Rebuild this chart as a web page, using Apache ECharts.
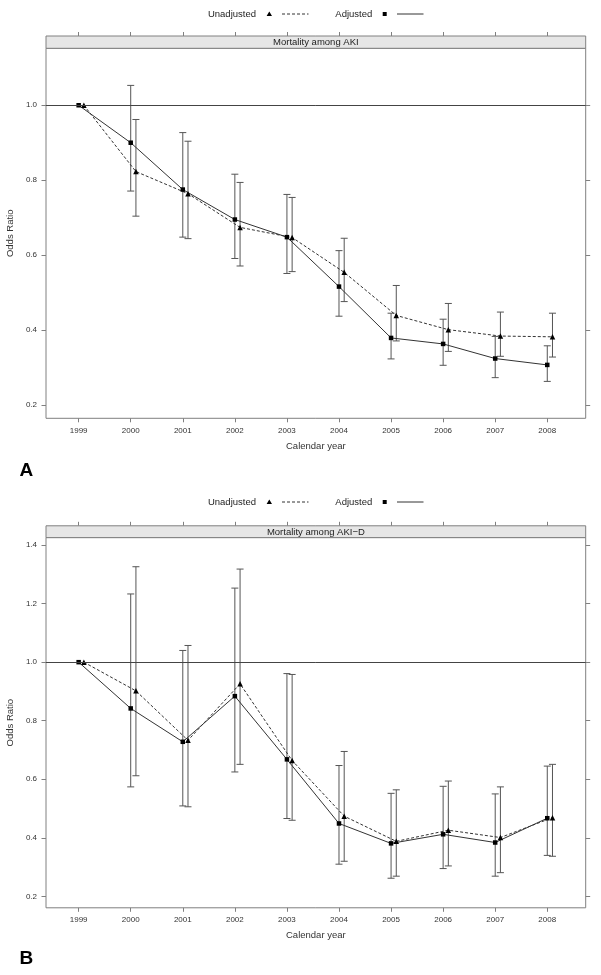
<!DOCTYPE html>
<html><head><meta charset="utf-8">
<script src="https://cdn.jsdelivr.net/npm/echarts@6/dist/echarts.min.js"></script>
<style>html,body{margin:0;padding:0;background:#fff}#c{width:601px;height:975px}</style>
</head><body><div id="c"></div>
<script>
// ---------- data ----------
const years = [1999, 2000, 2001, 2002, 2003, 2004, 2005, 2006, 2007, 2008];
const yTicksA = [0.2, 0.4, 0.6, 0.8, 1.0];
const yTicksB = [0.2, 0.4, 0.6, 0.8, 1.0, 1.2, 1.4];

// Panel A: Mortality among AKI
const aAdjOR   = [1.000, 0.900, 0.775, 0.695, 0.648, 0.516, 0.379, 0.363, 0.324, 0.307];
const aAdjLo   = [null,  0.771, 0.648, 0.591, 0.551, 0.437, 0.323, 0.306, 0.273, 0.263];
const aAdjHi   = [null,  1.053, 0.927, 0.816, 0.762, 0.612, 0.445, 0.429, 0.383, 0.358];
const aUnOR    = [1.000, 0.823, 0.764, 0.674, 0.647, 0.554, 0.439, 0.401, 0.384, 0.382];
const aUnLo    = [null,  0.704, 0.644, 0.571, 0.556, 0.476, 0.371, 0.343, 0.330, 0.328];
const aUnHi    = [null,  0.962, 0.904, 0.794, 0.754, 0.645, 0.519, 0.471, 0.448, 0.445];

// Panel B: Mortality among AKI-D
const bAdjOR   = [1.000, 0.842, 0.728, 0.884, 0.668, 0.449, 0.381, 0.412, 0.384, 0.467];
const bAdjLo   = [null,  0.574, 0.509, 0.625, 0.466, 0.310, 0.262, 0.295, 0.269, 0.340];
const bAdjHi   = [null,  1.233, 1.040, 1.253, 0.961, 0.647, 0.552, 0.576, 0.550, 0.645];
const bUnOR    = [1.000, 0.902, 0.733, 0.926, 0.664, 0.474, 0.388, 0.426, 0.401, 0.469];
const bUnLo    = [null,  0.612, 0.506, 0.651, 0.460, 0.320, 0.269, 0.304, 0.281, 0.337];
const bUnHi    = [null,  1.326, 1.057, 1.318, 0.958, 0.695, 0.564, 0.594, 0.574, 0.651];

// ---------- layout / style ----------
const DODGE = 0.1;
const FONT = "'Liberation Sans', Arial, Helvetica, sans-serif";
const TXT = '#333';
const BOX = '#808080';
const LEFT = 46, WIDTH = 539.7;
const panels = [
  {title: 'Mortality among AKI', stripTop: 36, top: 48.3, height: 370, ymin: 0.1645, ymax: 1.152, ticks: yTicksA,
   adj: [aAdjOR, aAdjLo, aAdjHi], un: [aUnOR, aUnLo, aUnHi], legendY: 14, letter: 'A', letterY: 471},
  {title: 'Mortality among AKI\u2212D', stripTop: 525.8, top: 537.6, height: 370.2, ymin: 0.161, ymax: 1.4255, ticks: yTicksB,
   adj: [bAdjOR, bAdjLo, bAdjHi], un: [bUnOR, bUnLo, bUnHi], legendY: 502, letter: 'B', letterY: 959}
];
const XMIN = 1998.373, XMAX = 2008.738;

function errItem(params, api) {
  const x = api.value(0), lo = api.value(1), hi = api.value(2);
  const pl = api.coord([x, lo]), ph = api.coord([x, hi]);
  const hw = 3.5;
  const st = {stroke: '#555', lineWidth: 1, fill: null};
  return {type: 'group', children: [
    {type: 'line', shape: {x1: pl[0], y1: pl[1], x2: ph[0], y2: ph[1]}, style: st},
    {type: 'line', shape: {x1: pl[0] - hw, y1: pl[1], x2: pl[0] + hw, y2: pl[1]}, style: st},
    {type: 'line', shape: {x1: ph[0] - hw, y1: ph[1], x2: ph[0] + hw, y2: ph[1]}, style: st}
  ]};
}

const grid = [], xAxis = [], yAxis = [], series = [], graphic = [];
panels.forEach((p, i) => {
  grid.push({left: LEFT, top: p.top, width: WIDTH, height: p.height, show: true,
    borderColor: BOX, borderWidth: 1, backgroundColor: 'transparent', containLabel: false, outerBoundsMode: 'none'});
  const xBase = {type: 'value', gridIndex: i, min: XMIN, max: XMAX, splitLine: {show: false}, axisLine: {show: false}};
  xAxis.push(Object.assign({}, xBase, {position: 'bottom',
    axisTick: {show: true, inside: false, length: 4, lineStyle: {color: BOX}, customValues: years},
    axisLabel: {show: true, customValues: years, formatter: v => String(Math.round(v)), color: TXT, fontSize: 8, fontFamily: FONT, margin: 8},
    name: 'Calendar year', nameLocation: 'middle', nameGap: 23,
    nameTextStyle: {color: TXT, fontSize: 9.5, fontFamily: FONT}}));
  xAxis.push(Object.assign({}, xBase, {position: 'top', offset: p.top - p.stripTop,
    axisTick: {show: true, inside: false, length: 4, lineStyle: {color: BOX}, customValues: years},
    axisLabel: {show: false}}));
  const yBase = {type: 'value', gridIndex: i, min: p.ymin, max: p.ymax, splitLine: {show: false}, axisLine: {show: false}};
  yAxis.push(Object.assign({}, yBase, {position: 'left',
    axisTick: {show: true, inside: false, length: 4.5, lineStyle: {color: BOX}, customValues: p.ticks},
    axisLabel: {show: true, customValues: p.ticks, formatter: v => v.toFixed(1), color: TXT, fontSize: 8, fontFamily: FONT, margin: 9},
    name: 'Odds Ratio', nameLocation: 'middle', nameGap: 25,
    nameTextStyle: {color: TXT, fontSize: 9.5, fontFamily: FONT}}));
  yAxis.push(Object.assign({}, yBase, {position: 'right',
    axisTick: {show: true, inside: false, length: 4.5, lineStyle: {color: BOX}, customValues: p.ticks},
    axisLabel: {show: false}}));

  const xi = i * 2, yi = i * 2;
  const build = (arr, d) => years.map((y, k) => [y + d, arr[k]]);
  const buildErr = (lo, hi, d) => years.map((y, k) => [y + d, lo[k], hi[k]]).filter(r => r[1] != null);

  series.push({type: 'custom', xAxisIndex: xi, yAxisIndex: yi, renderItem: errItem,
    encode: {x: 0, y: [1, 2]}, data: buildErr(p.adj[1], p.adj[2], 0), silent: true, z: 2});
  series.push({type: 'custom', xAxisIndex: xi, yAxisIndex: yi, renderItem: errItem,
    encode: {x: 0, y: [1, 2]}, data: buildErr(p.un[1], p.un[2], DODGE), silent: true, z: 2});
  series.push({type: 'line', name: 'Unadjusted', xAxisIndex: xi, yAxisIndex: yi, data: build(p.un[0], DODGE),
    symbol: 'triangle', symbolSize: 5.5, itemStyle: {color: '#000'},
    lineStyle: {color: '#333', width: 1, type: [3, 2]}, silent: true, z: 3});
  series.push({type: 'line', name: 'Adjusted', xAxisIndex: xi, yAxisIndex: yi, data: build(p.adj[0], 0),
    symbol: 'rect', symbolSize: 4.5, itemStyle: {color: '#000'},
    lineStyle: {color: '#333', width: 1, type: 'solid'}, silent: true, z: 3,
    markLine: {silent: true, symbol: 'none', label: {show: false},
      lineStyle: {color: '#444', width: 1, type: 'solid'}, data: [{yAxis: 1}]}});

  // strip
  graphic.push({type: 'rect', shape: {x: LEFT, y: p.stripTop, width: WIDTH, height: p.top - p.stripTop},
    style: {fill: '#e6e6e6', stroke: BOX, lineWidth: 1}, z: 10});
  graphic.push({type: 'text', x: LEFT + WIDTH / 2, y: (p.stripTop + p.top) / 2 + 0.5,
    style: {text: p.title, fill: '#222', font: '9.5px ' + FONT, textAlign: 'center', textVerticalAlign: 'middle'}, z: 11});
  // legend
  const ly = p.legendY;
  graphic.push({type: 'text', x: 256, y: ly, style: {text: 'Unadjusted', fill: '#222', font: '9.5px ' + FONT, textAlign: 'right', textVerticalAlign: 'middle'}});
  graphic.push({type: 'polygon', shape: {points: [[269.3, ly - 2.6], [266.6, ly + 2], [272, ly + 2]]}, style: {fill: '#000'}});
  graphic.push({type: 'line', shape: {x1: 282, y1: ly, x2: 308.5, y2: ly}, style: {stroke: '#333', lineWidth: 1, lineDash: [3, 2]}});
  graphic.push({type: 'text', x: 335.3, y: ly, style: {text: 'Adjusted', fill: '#222', font: '9.5px ' + FONT, textAlign: 'left', textVerticalAlign: 'middle'}});
  graphic.push({type: 'rect', shape: {x: 382.7, y: ly - 2, width: 4, height: 4}, style: {fill: '#000'}});
  graphic.push({type: 'line', shape: {x1: 397, y1: ly, x2: 423.5, y2: ly}, style: {stroke: '#333', lineWidth: 1}});
  // panel letter
  graphic.push({type: 'text', x: 19.5, y: p.letterY, style: {text: p.letter, fill: '#000', font: 'bold 19px ' + FONT, textAlign: 'left', textVerticalAlign: 'middle'}});
});

const chart = echarts.init(document.getElementById('c'), null, {renderer: 'canvas'});
chart.setOption({animation: false, backgroundColor: '#fff', grid, xAxis, yAxis, series, graphic,
  tooltip: {show: false}, legend: {show: false}});
</script>
</body></html>
